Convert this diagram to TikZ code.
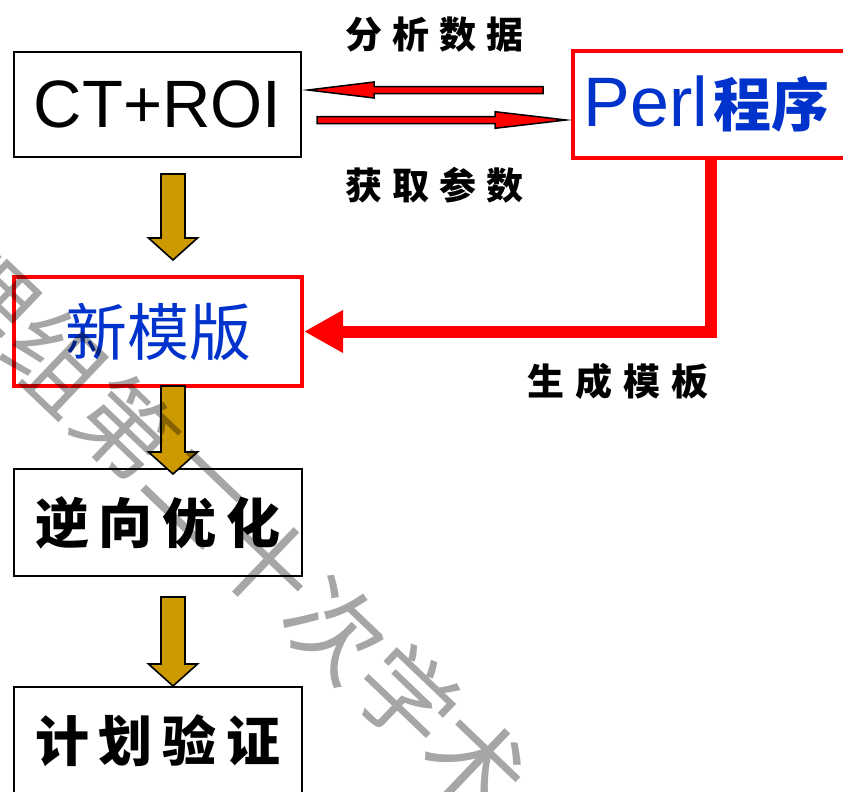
\documentclass[tikz,border=0pt]{standalone}
\usepackage{fontspec}
\usetikzlibrary{calc,arrows.meta}
\setmainfont{Liberation Sans}
\newfontfamily\hei{Noto Sans CJK SC}
\IfFontExistsTF{FandolKai-Regular.otf}
 {\newfontfamily\kai{FandolKai-Regular.otf}[FakeBold=1.5]}
 {\newfontfamily\kai{Noto Sans CJK SC}}
\IfFontExistsTF{FandolSong-Regular.otf}
 {\newfontfamily\song{FandolSong-Regular.otf}}
 {\newfontfamily\song{Noto Sans CJK SC}}
\definecolor{txtblue}{RGB}{0,51,204}
\definecolor{gold}{RGB}{204,153,0}
% horizontal fat arrow: style, start, tip, shaft half, head half, head length
\newcommand\hfat[6]{%
 \draw[#1] let \p1=(#2), \p2=(#3), \p3=($(#3)!#6!(#2)$) in
 (\x1,\y2+#4) -- (\x3,\y2+#4) -- (\x3,\y2+#5) -- (\x2,\y2) --
 (\x3,\y2-#5) -- (\x3,\y2-#4) -- (\x1,\y2-#4) -- cycle;}
% vertical fat arrow
\newcommand\vfat[6]{%
 \draw[#1] let \p1=(#2), \p2=(#3), \p3=($(#3)!#6!(#2)$) in
 (\x2+#4,\y1) -- (\x2+#4,\y3) -- (\x2+#5,\y3) -- (\x2,\y2) --
 (\x2-#5,\y3) -- (\x2-#4,\y3) -- (\x2-#4,\y1) -- cycle;}
\tikzset{
 blackbox/.style={draw=black, line width=2pt, inner sep=0pt,
   minimum width=288pt, minimum height=107pt},
 redbox/.style={draw=red, line width=4pt, inner sep=0pt,
   minimum width=288pt, minimum height=107pt},
 goldarrow/.style={fill=gold, draw=black, line width=1.6pt, line join=miter},
 redarrow/.style={fill=red, draw=black, line width=1.5pt, line join=miter, miter limit=30},
 bigconn/.style={draw=red, line width=12pt, line join=miter,
   -{Triangle[length=39pt,width=40pt]}},
 lbl/.style={font=\kai\bfseries\fontsize{37}{37}\selectfont, inner sep=0pt, anchor=west},
 boxkai/.style={font=\kai\bfseries\fontsize{54}{54}\selectfont},
 wmark/.style={font=\hei\fontsize{97}{97}\selectfont, text=black, opacity=0.35, inner sep=0pt}
}
\begin{document}
\begin{tikzpicture}[x=1pt,y=-1pt]
\useasboundingbox (0,0) rectangle (843,792);
\fill[white] (0,0) rectangle (843,792);
\clip (0,0) rectangle (843,792);

% boxes
\node[blackbox, minimum width=287pt, minimum height=105pt,
  font=\fontsize{67}{67}\selectfont] (ct) at (157.5,104.5) {CT+ROI};
\node[redbox, minimum width=287pt, minimum height=106pt, text=txtblue]
  (perl) at (716.5,104.5)
  {\makebox[266pt][l]{\fontsize{70}{70}\selectfont Perl\hspace{6pt}{\kai\bfseries\fontsize{58}{58}\selectfont 程序}}};
\node[redbox, minimum height=109pt, text=txtblue,
  font=\song\fontsize{62}{62}\selectfont] (newt) at (158,331.5) {新模版};
\node[blackbox, boxkai] (inv) at (158,522.5)
  {逆\hspace{10pt}向\hspace{10pt}优\hspace{10pt}化};
\node[blackbox, boxkai] (plan) at (158,740.5)
  {计\hspace{10pt}划\hspace{10pt}验\hspace{10pt}证};

% red thin arrows between CT+ROI and Perl
\coordinate (l1s) at ($(perl.west)+(-28,-14.5)$);
\coordinate (l1e) at ($(ct.east)+(6,-14.5)$);
\coordinate (r1s) at ($(ct.east)+(15,15.5)$);
\coordinate (r1e) at ($(perl.west)+(-5,15.5)$);
\hfat{redarrow}{l1s}{l1e}{3.5pt}{8pt}{66pt}
\hfat{redarrow}{r1s}{r1e}{3.5pt}{8.3pt}{71pt}

% gold down arrows
\coordinate (g1s) at ($(ct.south)+(15.5,16)$);
\coordinate (g1e) at ($(newt.north)+(15,-15)$);
\coordinate (g2s) at ($(newt.south)+(15,-2)$);
\coordinate (g2e) at ($(inv.north)+(15,6)$);
\coordinate (g3s) at ($(inv.south)+(15,20)$);
\coordinate (g3e) at ($(plan.north)+(15,0)$);
\vfat{goldarrow}{g1s}{g1e}{12pt}{24.5pt}{22pt}
\vfat{goldarrow}{g2s}{g2e}{12pt}{24.5pt}{22pt}
\vfat{goldarrow}{g3s}{g3e}{12pt}{24.5pt}{22pt}

% big red connector Perl -> new template
\draw[bigconn] ($(perl.south)+(-5.5,0)$) |- (newt.east);

% labels
\node[lbl] (lab1) at (345,35) {分\hspace{10pt}析\hspace{10pt}数\hspace{10pt}据};
\node[lbl] (lab2) at (345,185) {获\hspace{10pt}取\hspace{10pt}参\hspace{10pt}数};
\node[lbl] (lab3) at (527,381) {生\hspace{11pt}成\hspace{11pt}模\hspace{11pt}板};

% watermark
\node[wmark, rotate=-43.7] (wm) at (231.5,528.5) {理组第二十次学术};
\end{tikzpicture}
\end{document}
